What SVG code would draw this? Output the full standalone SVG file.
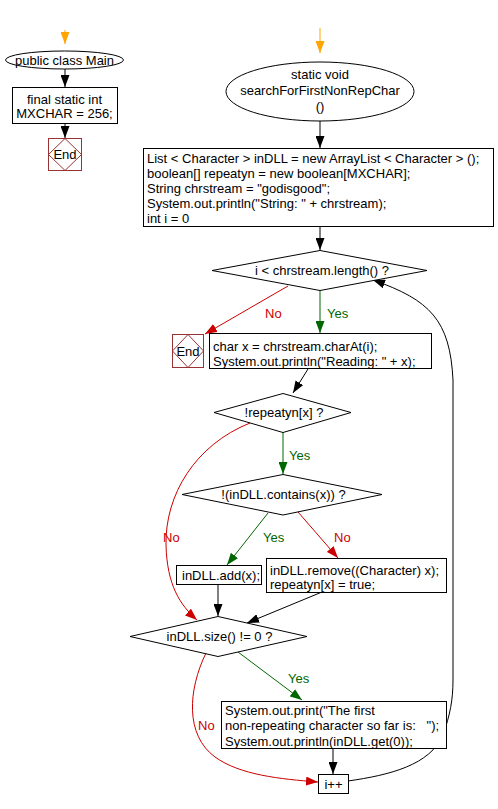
<svg xmlns="http://www.w3.org/2000/svg" width="498" height="809" viewBox="0 0 498 809">
<defs>
<style>
text{font-family:"Liberation Sans",Arial,sans-serif;font-size:13px;fill:#000}
.c{text-anchor:middle}
.pre{white-space:pre}
.shape{fill:#fff;stroke:#000;stroke-width:1}
.end{fill:#fff;stroke:#993333;stroke-width:1}
.endd{fill:none;stroke:#993333;stroke-width:1}
.e{fill:none;stroke:#000;stroke-width:1}
.r{fill:none;stroke:#cc0000;stroke-width:1}
.g{fill:none;stroke:#006600;stroke-width:1}
.o{fill:none;stroke:#ffa500;stroke-width:1}
.lr{fill:#cc0000}
.lg{fill:#006600}
</style>
<marker id="ak" markerUnits="userSpaceOnUse" markerWidth="13" markerHeight="9" refX="12" refY="4.5" orient="auto"><path d="M0,0 L12,4.5 L0,9 z" fill="#000"/></marker>
<marker id="ar" markerUnits="userSpaceOnUse" markerWidth="13" markerHeight="9" refX="12" refY="4.5" orient="auto"><path d="M0,0 L12,4.5 L0,9 z" fill="#cc0000"/></marker>
<marker id="ag" markerUnits="userSpaceOnUse" markerWidth="13" markerHeight="9" refX="12" refY="4.5" orient="auto"><path d="M0,0 L12,4.5 L0,9 z" fill="#006600"/></marker>
<marker id="ao" markerUnits="userSpaceOnUse" markerWidth="13" markerHeight="9" refX="12" refY="4.5" orient="auto"><path d="M0,0 L12,4.5 L0,9 z" fill="#ffa500"/></marker>
</defs>
<rect width="498" height="809" fill="#fff"/>

<g id="connectors">
<line class="o" x1="65" y1="30" x2="65" y2="44" marker-end="url(#ao)"/>
<line class="e" x1="65" y1="69" x2="65" y2="87" marker-end="url(#ak)"/>
<line class="e" x1="65" y1="123" x2="65" y2="138" marker-end="url(#ak)"/>
<line class="o" x1="320" y1="28" x2="320" y2="53" marker-end="url(#ao)"/>
<line class="e" x1="320" y1="121" x2="320" y2="148" marker-end="url(#ak)"/>
<line class="e" x1="320" y1="226" x2="320" y2="250" marker-end="url(#ak)"/>
<line class="r" x1="288" y1="286" x2="205" y2="334" marker-end="url(#ar)"/>
<line class="g" x1="320" y1="290" x2="320" y2="333" marker-end="url(#ag)"/>
<line class="e" x1="308" y1="369" x2="293" y2="393" marker-end="url(#ak)"/>
<line class="g" x1="283" y1="432" x2="283" y2="474" marker-end="url(#ag)"/>
<path class="r" d="M250,423 C195,445 165,495 166,545 C167,585 180,605 197,620" marker-end="url(#ar)"/>
<line class="g" x1="268" y1="513" x2="227" y2="565" marker-end="url(#ag)"/>
<line class="r" x1="298" y1="512" x2="338" y2="558" marker-end="url(#ar)"/>
<line class="e" x1="218" y1="584" x2="218" y2="616" marker-end="url(#ak)"/>
<line class="e" x1="322" y1="592" x2="247" y2="623" marker-end="url(#ak)"/>
<line class="g" x1="238" y1="652" x2="302" y2="700" marker-end="url(#ag)"/>
<path class="r" d="M206,653 C188,690 185,735 215,757 C240,775 280,779 318,782" marker-end="url(#ar)"/>
<line class="e" x1="333" y1="748" x2="333" y2="774" marker-end="url(#ak)"/>
<path class="e" d="M348,781 C390,775 430,765 443,735 C450,715 453,700 453,680 L453,380 C450,320 430,300 373,280" marker-end="url(#ak)"/>
<text class="lr" x="265" y="318">No</text>
<text class="lg" x="327" y="318">Yes</text>
<text class="lg" x="289" y="460">Yes</text>
<text class="lr" x="163" y="542">No</text>
<text class="lg" x="263" y="542">Yes</text>
<text class="lr" x="334" y="542">No</text>
<text class="lg" x="288" y="683">Yes</text>
<text class="lr" x="198" y="730">No</text>
</g>

<g id="main-class">
<ellipse class="shape" cx="64.5" cy="60" rx="59" ry="9"/>
<text class="c" x="64.5" y="64.5">public class Main</text>
</g>
<g id="mxchar">
<rect class="shape" x="12.5" y="87.5" width="105" height="36"/>
<text class="c" x="64.5" y="104">final static int</text>
<text class="c" x="64.5" y="118">MXCHAR = 256;</text>
</g>
<g id="end1">
<rect class="end" x="48.5" y="138.5" width="33" height="32"/>
<path class="endd" d="M65,138.5 L81.5,154.5 L65,170.5 L48.5,154.5 Z"/>
<text class="c" x="65" y="159">End</text>
</g>

<g id="method">
<ellipse class="shape" cx="320" cy="91.5" rx="94" ry="29.5"/>
<text class="c" x="320" y="78.5">static void</text>
<text class="c" x="320" y="94.5">searchForFirstNonRepChar</text>
<text class="c" x="320" y="110.5">()</text>
</g>
<g id="init">
<rect class="shape" x="143.5" y="148.5" width="350" height="78"/>
<text x="147" y="162.5">List &lt; Character &gt; inDLL = new ArrayList &lt; Character &gt; ();</text>
<text x="147" y="177.5">boolean[] repeatyn = new boolean[MXCHAR];</text>
<text x="147" y="192.5">String chrstream = "godisgood";</text>
<text x="147" y="207.5">System.out.println("String: " + chrstream);</text>
<text x="147" y="222.5">int i = 0</text>
</g>
<g id="cond-loop">
<polygon class="shape" points="212,270.5 320,250.5 427,270.5 320,290.5"/>
<text class="c" x="322" y="275">i &lt; chrstream.length() ?</text>
</g>
<g id="end2">
<rect class="end" x="172.5" y="334.5" width="31" height="33"/>
<path class="endd" d="M188,334.5 L203.5,351 L188,367.5 L172.5,351 Z"/>
<text class="c" x="188" y="355.5">End</text>
</g>
<g id="read">
<rect class="shape" x="209.5" y="333.5" width="222" height="35"/>
<text x="213" y="350.5">char x = chrstream.charAt(i);</text>
<text x="213" y="365.5">System.out.println("Reading: " + x);</text>
</g>
<g id="cond-repeat">
<polygon class="shape" points="214,412.5 283,393.5 351,412.5 283,432.5"/>
<text class="c" x="284" y="417">!repeatyn[x] ?</text>
</g>
<g id="cond-contains">
<polygon class="shape" points="182,494.5 283,474.5 382,494.5 283,515"/>
<text class="c" x="283.5" y="499">!(inDLL.contains(x)) ?</text>
</g>
<g id="add">
<rect class="shape" x="176.5" y="565.5" width="85" height="19"/>
<text x="182" y="580">inDLL.add(x);</text>
</g>
<g id="remove">
<rect class="shape" x="266.5" y="558.5" width="180" height="34"/>
<text x="270" y="574.5">inDLL.remove((Character) x);</text>
<text x="270" y="588.5">repeatyn[x] = true;</text>
</g>
<g id="cond-size">
<polygon class="shape" points="130,636.5 218,616.5 307,636.5 218,656.5"/>
<text class="c" x="219.5" y="641">inDLL.size() != 0 ?</text>
</g>
<g id="print">
<rect class="shape" x="221.5" y="701.5" width="225" height="47"/>
<text x="225" y="714.5">System.out.print("The first</text>
<text class="pre" x="225" y="730">non-repeating character so far is:   ");</text>
<text x="225" y="745.5">System.out.println(inDLL.get(0));</text>
</g>
<g id="inc">
<rect class="shape" x="318.5" y="774.5" width="30" height="19"/>
<text class="c" x="333.5" y="788.5">i++</text>
</g>
</svg>
